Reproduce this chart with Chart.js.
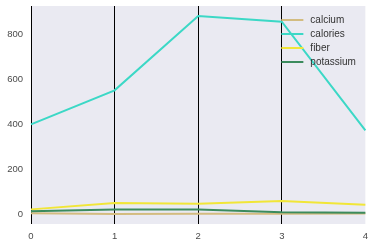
<!DOCTYPE html>
<html>
<head>
<meta charset="utf-8">
<script src="https://cdn.jsdelivr.net/npm/chart.js@4/dist/chart.umd.min.js"></script>
<style>
  html, body { margin: 0; padding: 0; background: #fff; }
  #wrap { width: 375px; height: 247px; position: relative; }
</style>
</head>
<body>
<div id="wrap"><canvas id="chart"></canvas></div>
<script>
  const xLabels = ["0", "1", "2", "3", "4"];
  const yTicks = [0, 200, 400, 600, 800];

  const calcium = [5, 1, 3, 3, 4];
  const calories = [400, 551, 881, 856, 373];
  const fiber = [22, 50, 47, 59, 43];
  const potassium = [14, 21, 21, 9, 7];

  const seriesNames = ["calcium", "calories", "fiber", "potassium"];
  const seriesColors = ["#d3bc80", "#3cd8c6", "#f1e638", "#3b8b5d"];

  // grey plot background, like the seaborn style
  const plotBg = {
    id: "plotBg",
    beforeDraw(chart) {
      const { ctx, chartArea: a } = chart;
      ctx.save();
      ctx.fillStyle = "#eaeaf2";
      ctx.fillRect(a.left, a.top, a.right - a.left, a.bottom - a.top);
      ctx.restore();
    },
  };

  // legend floating in the top right corner of the plot
  const cornerLegend = {
    id: "cornerLegend",
    afterDraw(chart) {
      const { ctx, chartArea: a } = chart;
      const x0 = a.right - 84;
      ctx.save();
      ctx.font = "10px 'Liberation Sans', Arial, sans-serif";
      ctx.textBaseline = "middle";
      chart.data.datasets.forEach((ds, i) => {
        const y = a.top + 14 + i * 14;
        ctx.strokeStyle = ds.borderColor;
        ctx.lineWidth = 2;
        ctx.beginPath();
        ctx.moveTo(x0, y);
        ctx.lineTo(x0 + 22, y);
        ctx.stroke();
        ctx.fillStyle = "#333";
        ctx.fillText(ds.label, x0 + 29, y);
      });
      ctx.restore();
    },
  };

  const values = [calcium, calories, fiber, potassium];
  const datasets = seriesNames.map((name, i) => ({
    label: name,
    data: values[i],
    borderColor: seriesColors[i],
    backgroundColor: seriesColors[i],
    borderWidth: 2,
    pointRadius: 0,
    tension: 0,
    order: seriesNames.length - 1 - i,
  }));

  new Chart(document.getElementById("chart"), {
    type: "line",
    data: { labels: xLabels, datasets },
    plugins: [plotBg, cornerLegend],
    options: {
      responsive: true,
      maintainAspectRatio: false,
      animation: false,
      layout: { padding: { top: 0, right: 9, left: 0, bottom: 0 } },
      plugins: { legend: { display: false }, tooltip: { enabled: false } },
      scales: {
        x: {
          offset: false,
          z: 1,
          border: { display: false },
          grid: {
            drawTicks: false,
            lineWidth: 1,
            color: (c) => (c.index === xLabels.length - 1 ? "rgba(0,0,0,0)" : "#000"),
          },
          ticks: {
            padding: 7,
            maxRotation: 0,
            color: "#4a4a4a",
            font: { family: "'Liberation Sans', Arial, sans-serif", size: 9.5 },
          },
          afterFit: (s) => { s.height = 23; },
        },
        y: {
          min: -43,
          max: 926,
          border: { display: false },
          grid: { display: false, drawTicks: false },
          ticks: {
            padding: 8,
            color: "#4a4a4a",
            font: { family: "'Liberation Sans', Arial, sans-serif", size: 9.5 },
          },
          afterBuildTicks: (s) => { s.ticks = yTicks.map((v) => ({ value: v })); },
          afterFit: (s) => {
            s.width = 31;
            s.paddingTop = 6;
          },
        },
      },
    },
  });
</script>
</body>
</html>
